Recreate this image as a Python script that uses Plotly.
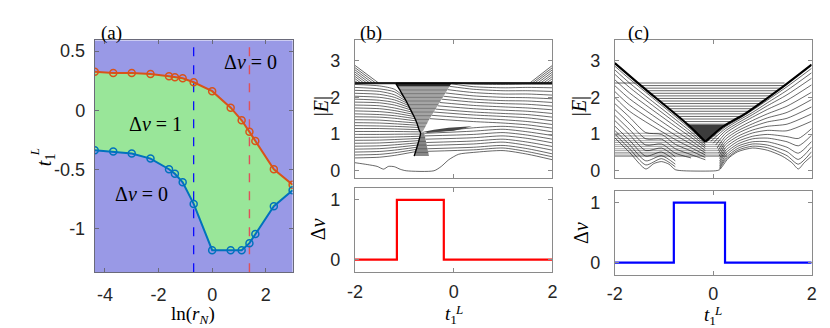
import plotly.graph_objects as go

# ---------------- Panel (a) data ----------------
ln_rN = [-4.38, -3.69, -3.00, -2.30, -1.61, -1.39, -1.10, -0.69, 0.00, 0.69, 1.10, 1.39, 1.61, 2.30, 3.00]
t1L_upper = [0.326, 0.314, 0.314, 0.306, 0.287, 0.278, 0.270, 0.236, 0.161, 0.021, -0.085, -0.183, -0.261, -0.499, -0.630]
t1L_lower = [-0.339, -0.350, -0.367, -0.409, -0.499, -0.537, -0.610, -0.792, -1.183, -1.183, -1.183, -1.124, -1.046, -0.811, -0.677]
cut_b = 1.39    # ln(4)  -> panel (b)
cut_c = -0.69   # ln(0.5)-> panel (c)
a_xrange = [-4.38, 3.0]
a_yrange = [-1.37, 0.59]

# ---------------- Bottom panels (Delta nu) ----------------
step_t_b = [-2, -1.15, -0.20, 2]
step_dnu_b = [0, 1, 0, 0]
step_t_c = [-2, -0.80, 0.24, 2]
step_dnu_c = [0, 1, 0, 0]

# ---------------- Panel (b) spectrum ----------------
b_flat_E = [2.40, 2.385, 2.37]
b_triL_E = [2.45, 2.51, 2.57, 2.63, 2.69, 2.75, 2.81, 2.87]
b_triL_t = [-1.95, -1.89, -1.83, -1.77, -1.71, -1.65, -1.59, -1.53]
b_triR_E = [2.45, 2.51, 2.57, 2.63, 2.69, 2.75, 2.81, 2.87]
b_triR_t = [1.95, 1.89, 1.83, 1.77, 1.71, 1.65, 1.60, 1.55]

b_left = [
    [(-2, 2.35), (-1.5, 2.31), (-1.2, 2.22), (-1.013, 2.02)],
    [(-2, 2.27), (-1.5, 2.23), (-1.2, 2.15), (-0.987, 1.96)],
    [(-2, 2.19), (-1.5, 2.16), (-1.2, 2.07), (-0.963, 1.90)],
    [(-2, 2.11), (-1.5, 2.08), (-1.2, 2.00), (-0.940, 1.84)],
    [(-2, 2.03), (-1.5, 2.00), (-1.2, 1.93), (-0.918, 1.78)],
    [(-2, 1.95), (-1.5, 1.92), (-1.2, 1.86), (-0.895, 1.72)],
    [(-2, 1.87), (-1.5, 1.85), (-1.2, 1.79), (-0.872, 1.66)],
    [(-2, 1.79), (-1.5, 1.77), (-1.2, 1.71), (-0.850, 1.60)],
    [(-2, 1.71), (-1.5, 1.69), (-1.2, 1.64), (-0.827, 1.54)],
    [(-2, 1.63), (-1.5, 1.61), (-1.2, 1.57), (-0.804, 1.48)],
    [(-2, 1.55), (-1.5, 1.53), (-1.2, 1.50), (-0.784, 1.42)],
    [(-2, 1.47), (-1.5, 1.46), (-1.2, 1.43), (-0.765, 1.36)],
    [(-2, 1.39), (-1.5, 1.38), (-1.2, 1.35), (-0.746, 1.30)],
    [(-2, 1.31), (-1.5, 1.30), (-1.2, 1.28), (-0.731, 1.24)],
    [(-2, 1.23), (-1.5, 1.22), (-1.2, 1.21), (-0.716, 1.18)],
    [(-2, 1.15), (-1.5, 1.15), (-1.2, 1.14), (-0.702, 1.12)],
    [(-2, 1.07), (-1.5, 1.07), (-1.2, 1.07), (-0.681, 1.06)],
    [(-2, 0.99), (-1.5, 0.99), (-1.2, 0.995), (-0.676, 1.00)],
    [(-2, 0.91), (-1.5, 0.914), (-1.2, 0.92), (-0.689, 0.94)],
    [(-2, 0.83), (-1.5, 0.836), (-1.2, 0.85), (-0.701, 0.88)],
    [(-2, 0.75), (-1.5, 0.758), (-1.2, 0.778), (-0.713, 0.82)],
    [(-2, 0.67), (-1.5, 0.68), (-1.2, 0.706), (-0.726, 0.76)],
    [(-2, 0.59), (-1.5, 0.603), (-1.2, 0.634), (-0.738, 0.70)],
    [(-2, 0.51), (-1.5, 0.526), (-1.2, 0.562), (-0.750, 0.64)],
    [(-2, 0.43), (-1.5, 0.448), (-1.2, 0.49), (-0.763, 0.58)],
    [(-2, 0.35), (-1.5, 0.37), (-1.2, 0.418), (-0.775, 0.52)],
]
b_right = [
    [(-0.040, 2.40), (0.4, 2.36), (1.0, 2.35), (1.5, 2.36), (2, 2.36)],
    [(-0.054, 2.37), (0.4, 2.29), (1.0, 2.26), (1.5, 2.27), (2, 2.26)],
    [(-0.086, 2.30), (0.4, 2.22), (1.0, 2.18), (1.5, 2.18), (2, 2.16)],
    [(-0.126, 2.21), (0.4, 2.13), (1.0, 2.09), (1.5, 2.09), (2, 2.06)],
    [(-0.167, 2.12), (0.4, 2.04), (1.0, 2.00), (1.5, 1.99), (2, 1.96)],
    [(-0.208, 2.03), (0.4, 1.95), (1.0, 1.91), (1.5, 1.90), (2, 1.86)],
    [(-0.245, 1.95), (0.4, 1.87), (1.0, 1.83), (1.5, 1.81), (2, 1.76)],
    [(-0.286, 1.86), (0.4, 1.78), (1.0, 1.74), (1.5, 1.71), (2, 1.66)],
    [(-0.327, 1.77), (0.4, 1.69), (1.0, 1.65), (1.5, 1.62), (2, 1.56)],
    [(-0.368, 1.68), (0.4, 1.60), (1.0, 1.56), (1.5, 1.53), (2, 1.46)],
    [(-0.404, 1.60), (0.4, 1.52), (1.0, 1.48), (1.5, 1.44), (2, 1.36)],
    [(-0.445, 1.51), (0.4, 1.43), (1.0, 1.39), (1.5, 1.34), (2, 1.26)],
    [(-0.486, 1.42), (0.4, 1.34), (1.0, 1.30), (1.5, 1.25), (2, 1.16)],
    [(-0.550, 1.04), (0.4, 1.17), (1.0, 1.21), (1.5, 1.16), (2, 1.06)],
    [(-0.595, 1.02), (0.4, 1.08), (1.0, 1.13), (1.5, 1.06), (2, 0.96)],
    [(-0.585, 0.95), (0.4, 0.99), (1.0, 1.04), (1.5, 0.97), (2, 0.86)],
    [(-0.571, 0.86), (0.4, 0.90), (1.0, 0.95), (1.5, 0.88), (2, 0.76)],
    [(-0.557, 0.77), (0.4, 0.81), (1.0, 0.86), (1.5, 0.78), (2, 0.66)],
    [(-0.545, 0.69), (0.4, 0.73), (1.0, 0.78), (1.5, 0.69), (2, 0.56)],
    [(-0.531, 0.60), (0.4, 0.64), (1.0, 0.69), (1.5, 0.60), (2, 0.46)],
    [(-0.520, 0.53), (0.4, 0.57), (1.0, 0.62), (1.5, 0.52), (2, 0.38)],
]
b_edge = [(-2, 0.22), (-1.75, 0.17), (-1.55, 0.12), (-1.42, 0.045), (-1.32, 0.12), (-1.2, 0.11),
          (-1.08, 0.04), (-0.96, 0.0), (-0.40, 0.0), (-0.25, 0.12), (-0.10, 0.30), (0.10, 0.45),
          (0.4, 0.50), (1.0, 0.55), (1.5, 0.45), (2, 0.30)]
b_lens_t = [-0.66, -0.40, -0.10, 0.20, 0.37, 0.20, 0.00, -0.30]
b_lens_E = [1.05, 1.12, 1.17, 1.20, 1.21, 1.15, 1.09, 1.06]
b_boundary = [(-1.17, 2.37), (-1.07, 2.15), (-0.97, 1.92), (-0.88, 1.68), (-0.80, 1.47), (-0.74, 1.28),
              (-0.70, 1.11), (-0.67, 1.03), (-0.72, 0.75), (-0.80, 0.40)]
b_gray_up_t = [-1.17, -0.04, -0.50, -0.62, -0.67, -0.70, -0.74, -0.80, -0.88, -0.97, -1.07, -1.17]
b_gray_up_E = [2.40, 2.40, 1.39, 1.08, 1.03, 1.11, 1.28, 1.47, 1.68, 1.92, 2.15, 2.37]
b_dark_t = [-1.17, -0.04, -0.08, -1.14]
b_dark_E = [2.40, 2.40, 2.31, 2.31]
b_gray_lo_t = [-0.67, -0.60, -0.50, -0.80]
b_gray_lo_E = [1.03, 1.05, 0.40, 0.40]
b_stripes = [
    [(-1.14, 2.3), (-0.086, 2.3)], [(-1.09, 2.2), (-0.131, 2.2)], [(-1.05, 2.1), (-0.177, 2.1)],
    [(-1.005, 2.0), (-0.222, 2.0)], [(-0.963, 1.9), (-0.268, 1.9)], [(-0.925, 1.8), (-0.313, 1.8)],
    [(-0.888, 1.7), (-0.359, 1.7)], [(-0.85, 1.6), (-0.404, 1.6)], [(-0.81, 1.5), (-0.45, 1.5)],
    [(-0.778, 1.4), (-0.495, 1.4)], [(-0.747, 1.3), (-0.535, 1.3)], [(-0.72, 1.2), (-0.574, 1.2)],
    [(-0.697, 0.9), (-0.577, 0.9)], [(-0.717, 0.8), (-0.562, 0.8)], [(-0.738, 0.7), (-0.546, 0.7)],
    [(-0.759, 0.6), (-0.531, 0.6)], [(-0.779, 0.5), (-0.515, 0.5)],
]

# ---------------- Panel (c) spectrum ----------------
c_flat_E = [2.39, 2.32, 2.25, 2.18, 2.11, 2.04, 1.97, 1.90, 1.83, 1.76, 1.69, 1.62, 1.55, 1.48, 1.41, 1.34, 1.27]
c_flat_t0 = [-2.00, -1.467, -1.405, -1.343, -1.280, -1.217, -1.155, -1.092, -1.029, -0.967, -0.904, -0.841,
             -0.779, -0.716, -0.653, -0.591, -0.528]
c_flat_t1 = [1.45, 1.447, 1.379, 1.309, 1.236, 1.162, 1.089, 1.016, 0.942, 0.869, 0.796, 0.722, 0.645,
             0.556, 0.467, 0.378, 0.289]
c_low_E = [1.02, 0.95, 0.88, 0.82, 0.77, 0.71, 0.66, 0.60, 0.55, 0.50, 0.46, 0.42, 0.39]
c_low_t1 = [0.05, 0.08, 0.12, 0.16, 0.19, 0.21, 0.23, 0.25, 0.26, 0.27, 0.28, 0.28, 0.28]
c_arm_left = [(-2.0, 2.93), (-1.45, 2.30), (-0.51, 1.25), (-0.16, 0.79)]
c_arm_right = [(-0.16, 0.79), (0.2, 1.2), (0.67, 1.57), (1.33, 2.2), (2.0, 2.89)]
c_cup_t = [-0.51, -0.16, 0.20, 0.25]
c_cup_E = [1.25, 0.79, 1.20, 1.25]
c_left = [
    [(-2, 2.85), (-1.7, 2.50), (-0.77, 1.48), (-0.45, 1.12), (-0.16, 0.76)],
    [(-2, 2.75), (-1.7, 2.39), (-0.77, 1.40), (-0.45, 1.06), (-0.16, 0.72)],
    [(-2, 2.63), (-1.7, 2.27), (-0.77, 1.31), (-0.45, 0.99), (-0.16, 0.67)],
    [(-2, 2.48), (-1.7, 2.12), (-0.77, 1.21), (-0.45, 0.91), (-0.16, 0.62)],
    [(-2, 2.32), (-1.7, 1.96), (-0.77, 1.09), (-0.45, 0.82), (-0.16, 0.55)],
    [(-2, 2.16), (-1.7, 1.79), (-0.77, 0.97), (-0.45, 0.73), (-0.16, 0.49)],
    [(-2, 2.00), (-1.7, 1.62), (-0.77, 0.85), (-0.45, 0.63), (-0.16, 0.43)],
    [(-2, 1.83), (-1.7, 1.46), (-1.37, 1.04), (-1.05, 0.99), (-0.77, 0.72), (-0.45, 0.54), (-0.16, 0.36)],
    [(-2, 1.67), (-1.7, 1.29), (-1.37, 0.87), (-1.05, 0.86), (-0.77, 0.60), (-0.45, 0.44), (-0.16, 0.30)],
    [(-2, 1.51), (-1.7, 1.12), (-1.37, 0.70), (-1.05, 0.73), (-0.77, 0.48), (-0.45, 0.35)],
    [(-2, 1.37), (-1.7, 0.98), (-1.37, 0.55), (-1.05, 0.62), (-0.77, 0.38)],
    [(-2, 1.22), (-1.7, 0.83), (-1.37, 0.40), (-1.05, 0.51), (-0.77, 0.27)],
    [(-2, 1.10), (-1.7, 0.71), (-1.37, 0.27), (-1.05, 0.41), (-0.77, 0.18)],
    [(-2, 1.00), (-1.7, 0.60), (-1.37, 0.16), (-1.05, 0.33), (-0.77, 0.11)],
]
c_right = [
    [(2, 2.79), (1.5, 2.29), (1.1, 1.92), (0.8, 1.65), (0.5, 1.40), (0.25, 1.20), (-0.12, 0.80)],
    [(2, 2.67), (1.5, 2.19), (1.1, 1.85), (0.8, 1.59), (0.5, 1.36), (0.25, 1.15), (-0.05, 0.80)],
    [(2, 2.52), (1.5, 2.07), (1.1, 1.77), (0.8, 1.53), (0.5, 1.30), (0.25, 1.09), (0.00, 0.75)],
    [(2, 2.34), (1.5, 1.92), (1.1, 1.67), (0.8, 1.46), (0.5, 1.24), (0.25, 1.02), (0.05, 0.70)],
    [(2, 2.14), (1.5, 1.76), (1.1, 1.55), (0.8, 1.37), (0.5, 1.16), (0.25, 0.94), (0.08, 0.62)],
    [(2, 1.94), (1.5, 1.59), (1.1, 1.44), (0.8, 1.28), (0.5, 1.09), (0.25, 0.86), (0.10, 0.55)],
    [(2, 1.74), (1.5, 1.43), (1.1, 1.33), (0.8, 1.20), (0.5, 1.02), (0.25, 0.78), (0.11, 0.48)],
    [(2, 1.55), (1.5, 1.27), (1.1, 1.21), (0.8, 1.11), (0.5, 0.94), (0.25, 0.71), (0.12, 0.40)],
    [(2, 1.35), (1.5, 1.09), (1.1, 1.10), (0.8, 1.03), (0.5, 0.87), (0.25, 0.63), (0.13, 0.33)],
    [(2, 1.15), (1.73, 0.88), (1.5, 0.93), (1.1, 0.99), (0.8, 0.94), (0.5, 0.80), (0.25, 0.55), (0.13, 0.26)],
    [(2, 0.97), (1.73, 0.68), (1.5, 0.79), (1.1, 0.89), (0.8, 0.87), (0.5, 0.73), (0.25, 0.48), (0.13, 0.20)],
    [(2, 0.80), (1.73, 0.48), (1.5, 0.64), (1.1, 0.79), (0.8, 0.79), (0.5, 0.67), (0.25, 0.41), (0.13, 0.14)],
    [(2, 0.65), (1.73, 0.31), (1.5, 0.52), (1.1, 0.70), (0.8, 0.73), (0.5, 0.61), (0.25, 0.35), (0.13, 0.09)],
    [(2, 0.52), (1.73, 0.18), (1.5, 0.41), (1.1, 0.63), (0.8, 0.67), (0.5, 0.56), (0.25, 0.30), (0.13, 0.05)],
]
c_edge = [(-2, 0.90), (-1.7, 0.50), (-1.37, 0.05), (-1.2, 0.20), (-1.05, 0.25), (-0.9, 0.18), (-0.77, 0.03),
          (-0.6, 0.0), (0.05, 0.0), (0.13, 0.03), (0.3, 0.33), (0.5, 0.52), (0.8, 0.62), (1.1, 0.56),
          (1.4, 0.40), (1.6, 0.22), (1.73, 0.05), (1.85, 0.22), (2.0, 0.40)]

spec_xrange = [-2, 2]
spec_yrange = [-0.2, 3.55]
dnu_yrange = [-0.2, 1.2]

# ---------------- styling ----------------
PURPLE = "rgb(153,153,230)"
GREEN = "rgb(153,230,153)"
ORANGE = "#D95319"
BLUE = "#0072BD"
SANS = "Liberation Sans, Arial, sans-serif"
SERIF = "Liberation Serif, Times New Roman, serif"
W, H = 830, 328


def px(x):
    return x / W


def py(y):
    return 1 - y / H


def polylines(lines):
    xs, ys = [], []
    for ln in lines:
        for t, e in ln:
            xs.append(t)
            ys.append(e)
        xs.append(None)
        ys.append(None)
    return xs, ys


def seg_lines(t0s, t1s, Es):
    return [[(a, e), (b, e)] for a, b, e in zip(t0s, t1s, Es)]


fig = go.Figure()

SPEC = dict(color="rgba(0,0,0,0.85)", width=0.7)


def add_lines(lines, xa, ya, line=None, spline=True):
    xs, ys = polylines(lines)
    ln = dict(SPEC if line is None else line)
    if spline:
        ln.update(shape="spline", smoothing=0.7)
    fig.add_trace(go.Scatter(x=xs, y=ys, mode="lines", line=ln, xaxis=xa, yaxis=ya,
                             hoverinfo="skip", connectgaps=False))


def add_poly(ts, Es, color, xa, ya):
    fig.add_trace(go.Scatter(x=ts + [ts[0]], y=Es + [Es[0]], mode="lines", fill="toself",
                             fillcolor=color, line=dict(width=0, color=color), xaxis=xa, yaxis=ya,
                             hoverinfo="skip"))


# ---- panel (a) ----
fig.add_trace(go.Scatter(x=ln_rN + ln_rN[::-1], y=t1L_upper + t1L_lower[::-1], fill="toself",
                         fillcolor=GREEN, mode="lines", line=dict(width=0, color=GREEN),
                         xaxis="x", yaxis="y", hoverinfo="skip"))
fig.add_trace(go.Scatter(x=[cut_c, cut_c], y=a_yrange, mode="lines",
                         line=dict(color="#0000FF", width=1.2, dash="dash"), xaxis="x", yaxis="y"))
fig.add_trace(go.Scatter(x=[cut_b, cut_b], y=a_yrange, mode="lines",
                         line=dict(color="#E0505A", width=1.4, dash="dash"), xaxis="x", yaxis="y"))
fig.add_trace(go.Scatter(x=ln_rN, y=t1L_upper, mode="lines+markers", line=dict(color=ORANGE, width=2),
                         marker=dict(symbol="circle-open", size=7, color=ORANGE, line=dict(width=1.5)),
                         xaxis="x", yaxis="y"))
fig.add_trace(go.Scatter(x=ln_rN, y=t1L_lower, mode="lines+markers", line=dict(color=BLUE, width=2),
                         marker=dict(symbol="circle-open", size=7, color=BLUE, line=dict(width=1.5)),
                         xaxis="x", yaxis="y"))

# ---- panel (b) top ----
add_lines(b_left, "x2", "y2")
add_lines(b_right, "x2", "y2")
add_poly(b_gray_up_t, b_gray_up_E, "rgb(165,165,165)", "x2", "y2")
add_poly(b_gray_lo_t, b_gray_lo_E, "rgb(135,135,135)", "x2", "y2")
add_lines(b_stripes, "x2", "y2", line=dict(color="rgba(0,0,0,0.45)", width=0.6), spline=False)
add_poly(b_dark_t, b_dark_E, "rgb(45,45,45)", "x2", "y2")
add_poly(b_lens_t, b_lens_E, "rgb(70,70,70)", "x2", "y2")
add_lines([[(spec_xrange[0], e), (spec_xrange[1], e)] for e in b_flat_E], "x2", "y2",
          line=dict(color="black", width=0.9), spline=False)
add_lines([[(-2, e), (t, 2.40)] for e, t in zip(b_triL_E, b_triL_t)], "x2", "y2", spline=False)
add_lines([[(t, 2.40), (2, e)] for e, t in zip(b_triR_E, b_triR_t)], "x2", "y2", spline=False)
add_lines([b_boundary], "x2", "y2", line=dict(color="black", width=1.4))
add_lines([b_edge], "x2", "y2", line=dict(color="rgba(0,0,0,0.75)", width=0.8))

# ---- panel (c) top ----
add_lines(c_left, "x4", "y4")
add_lines(c_right, "x4", "y4")
add_lines(seg_lines([-2.0] * len(c_low_E), c_low_t1, c_low_E), "x4", "y4",
          line=dict(color="rgba(0,0,0,0.6)", width=0.6), spline=False)
add_poly(c_cup_t, c_cup_E, "rgb(60,60,60)", "x4", "y4")
add_lines(seg_lines(c_flat_t0, c_flat_t1, c_flat_E), "x4", "y4", spline=False)
add_lines([c_arm_left, c_arm_right], "x4", "y4", line=dict(color="black", width=2.2))
add_lines([c_edge], "x4", "y4", line=dict(color="rgba(0,0,0,0.75)", width=0.8))

# ---- bottom panels ----
fig.add_trace(go.Scatter(x=step_t_b, y=step_dnu_b, mode="lines", line=dict(color="#FF0000", width=2.2, shape="hv"),
                         xaxis="x3", yaxis="y3"))
fig.add_trace(go.Scatter(x=step_t_c, y=step_dnu_c, mode="lines", line=dict(color="#0000FF", width=2.2, shape="hv"),
                         xaxis="x5", yaxis="y5"))

# ---------------- axes ----------------
AX_COL = "#8a8a8a"
TICKF = dict(family=SANS, size=18, color="#262626")


def axis(domain, rng, tickvals=None, ticktext=None, anchor=None, labels=True, col=AX_COL, standoff=4):
    d = dict(domain=domain, range=rng, showgrid=False, zeroline=False, showline=True, mirror="ticks",
             linecolor=col, linewidth=1, ticks="inside", ticklen=4, tickcolor=col, tickfont=TICKF,
             anchor=anchor, fixedrange=True, ticklabelstandoff=standoff)
    if tickvals is not None:
        d["tickvals"] = tickvals
        d["ticktext"] = ticktext
    d["showticklabels"] = labels
    return d


xa = [px(80), px(281)]
xb = [px(344.3), px(545)]
xc = [px(608.3), px(808.3)]
ya = [py(266.7), py(32.7)]
ytop = [py(171.7), py(32.7)]
ybb = [py(266), py(181.7)]
ycb = [py(269), py(184.3)]

spec_tv = [-2, 0, 2]
spec_tt = ["-2", "0", "2"]
E_tv = [0, 1, 2, 3]
E_tt = ["0", "1", "2", "3"]
dnu_tv = [0, 1]
dnu_tt = ["0", "1"]

fig.update_layout(
    width=W, height=H, margin=dict(l=0, r=0, t=0, b=0), paper_bgcolor="white", plot_bgcolor="white",
    showlegend=False,
    xaxis=axis(xa, a_xrange, [-4, -2, 0, 2], ["-4", "-2", "0", "2"], anchor="y", col="#6a6a7a", standoff=6),
    yaxis=axis(ya, a_yrange, [-1, -0.5, 0, 0.5], ["-1", "-0.5", "0", "0.5"], anchor="x", col="#6a6a7a", standoff=5),
    xaxis2=axis(xb, spec_xrange, spec_tv, spec_tt, anchor="y2", labels=False),
    yaxis2=axis(ytop, spec_yrange, E_tv, E_tt, anchor="x2", standoff=10),
    xaxis3=axis(xb, spec_xrange, spec_tv, spec_tt, anchor="y3", standoff=4),
    yaxis3=axis(ybb, dnu_yrange, dnu_tv, dnu_tt, anchor="x3", standoff=10),
    xaxis4=axis(xc, spec_xrange, spec_tv, spec_tt, anchor="y4", labels=False),
    yaxis4=axis(ytop, spec_yrange, E_tv, E_tt, anchor="x4", standoff=10),
    xaxis5=axis(xc, spec_xrange, spec_tv, spec_tt, anchor="y5", standoff=3),
    yaxis5=axis(ycb, dnu_yrange, dnu_tv, dnu_tt, anchor="x5", standoff=10),
)

fig.add_shape(type="rect", xref="x domain", yref="y domain", x0=0, x1=1, y0=0, y1=1,
              fillcolor=PURPLE, line=dict(width=0), layer="below")

TF = dict(family=SERIF, size=20, color="black")
LF = dict(family=SERIF, size=19, color="black")
XT = dict(family=SERIF, size=19, color="black")
SUPF = dict(family=SERIF, size=13, color="black")


def ann(text, x, y, font=TF, angle=0):
    fig.add_annotation(text=text, x=px(x), y=py(y), xref="paper", yref="paper", showarrow=False,
                       font=font, textangle=angle, xanchor="center", yanchor="middle")


ann("(a)", 97, 25, LF)
ann("(b)", 361, 25, LF)
ann("(c)", 632, 25, LF)
ann("Δ<i>ν</i> = 0", 238, 55)
ann("Δ<i>ν</i> = 1", 142, 117)
ann("Δ<i>ν</i> = 0", 128, 188)
ann("ln(<i>r</i><sub><i>N</i></sub>)", 180, 310, XT)
# t_1^L labels: main "t_1" plus a separate superscript "L" stacked above the subscript
ann("<i>t</i><sub>1</sub>", 30, 153, angle=-90)
ann("<i>L</i>", 19, 146, SUPF, angle=-90)
ann("|<i>E</i>|", 310, 99, angle=-90)
ann("Δ<i>ν</i>", 307, 223, angle=-90)
ann("<i>t</i><sub>1</sub>", 442, 310, XT)
ann("<i>L</i>", 450, 304, SUPF)
ann("|<i>E</i>|", 572, 99, angle=-90)
ann("Δ<i>ν</i>", 574, 227, angle=-90)
ann("<i>t</i><sub>1</sub>", 705, 311, XT)
ann("<i>L</i>", 713, 305, SUPF)

fig.write_html("out.html")
